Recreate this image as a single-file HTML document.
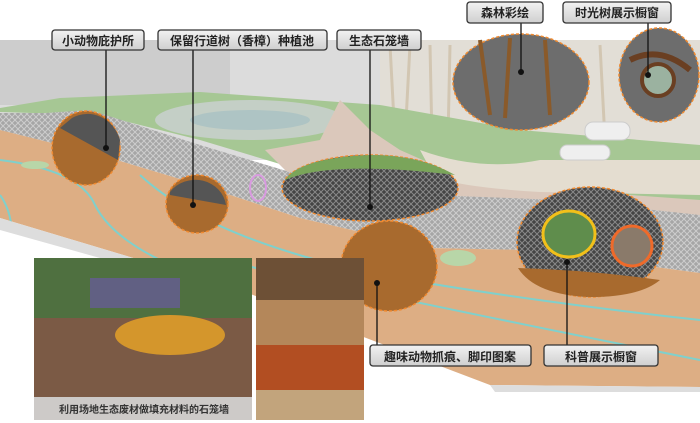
<!DOCTYPE html>
<html><head><meta charset="utf-8"><style>
html,body{margin:0;padding:0;background:#fff}
svg{display:block}
text{font-family:"Liberation Sans","Noto Sans CJK SC",sans-serif;font-weight:bold}
</style></head><body>
<svg width="700" height="423" viewBox="0 0 700 423" xmlns="http://www.w3.org/2000/svg">
<defs>
<pattern id="mesh" width="6" height="6" patternUnits="userSpaceOnUse">
<rect width="6" height="6" fill="#a6a6a6"/><path d="M0 3L3 0L6 3L3 6Z" fill="none" stroke="#cdcdcd" stroke-width="1"/>
</pattern>
<pattern id="meshd" width="6" height="6" patternUnits="userSpaceOnUse">
<rect width="6" height="6" fill="#444"/><path d="M0 3L3 0L6 3L3 6Z" fill="none" stroke="#888" stroke-width="1"/>
</pattern>
<linearGradient id="lb" x1="0" y1="0" x2="0" y2="1"><stop offset="0" stop-color="#f2f2f2"/><stop offset="1" stop-color="#cfcfcf"/></linearGradient>
<clipPath id="oc"><polygon points="0,130 100,155 200,185 300,218 430,248 530,250 700,273 700,387 490,385 240,290 0,218"/></clipPath>
</defs>
<rect width="700" height="423" fill="#fff"/>
<rect x="0" y="40" width="700" height="120" fill="#dcdcdc"/>
<rect x="0" y="40" width="230" height="65" fill="#cdcdcd"/>
<rect x="380" y="40" width="320" height="110" fill="#e2ded6"/>
<g stroke="#c9b79b" stroke-width="3" opacity="0.6">
<line x1="390" y1="45" x2="395" y2="140"/><line x1="410" y1="45" x2="405" y2="140"/><line x1="430" y1="45" x2="432" y2="140"/><line x1="450" y1="45" x2="448" y2="140"/><line x1="600" y1="45" x2="605" y2="140"/>
</g>
<polygon points="0,108 60,98 200,92 380,105 520,130 700,145 700,215 520,205 300,170 200,140 100,115 0,112" fill="#a6c794"/>
<ellipse cx="250" cy="120" rx="95" ry="20" fill="#c4cfc6"/>
<ellipse cx="250" cy="120" rx="60" ry="10" fill="#aec4c4"/>
<polygon points="265,150 320,140 340,100 370,130 400,150 450,172 560,190 700,200 700,225 450,212 300,185" fill="#dbc8bb"/>
<path d="M420,150 Q480,172 540,160 L700,160 L700,195 L540,192 Q470,188 435,178Z" fill="#e4ddd0"/>
<rect x="585" y="122" width="45" height="18" rx="8" fill="#efefef" stroke="#ccc"/>
<rect x="560" y="145" width="50" height="15" rx="7" fill="#efefef" stroke="#ccc"/>
<polygon points="0,113 45,113 90,110 200,145 300,175 430,195 560,200 700,215 700,273 530,250 430,248 300,218 200,185 100,155 0,130" fill="url(#mesh)"/>
<polygon points="0,130 100,155 200,185 300,218 430,248 530,250 700,273 700,387 490,385 240,290 0,218" fill="#ddae84"/>
<polygon points="0,218 240,290 250,300 0,230" fill="#ddd"/>
<polygon points="490,385 700,387 700,392 495,392" fill="#ddd"/>
<g fill="none" stroke="#7fd0cc" stroke-width="2" clip-path="url(#oc)">
<path d="M0,195 Q15,215 12,255"/>
<path d="M0,160 Q80,170 95,205 Q120,255 240,290"/>
<path d="M140,175 Q210,240 380,275 Q520,300 700,320"/>
<path d="M220,260 Q400,300 700,360"/>
</g>
<ellipse cx="35" cy="165" rx="14" ry="4" fill="#b8d6a8"/>
<ellipse cx="458" cy="258" rx="18" ry="8" fill="#b8d6a8"/>
<ellipse cx="258" cy="188" rx="8" ry="13" fill="none" stroke="#d99ae0" stroke-width="2"/>
<g stroke="#f08a30" stroke-width="1.5" stroke-dasharray="3,2">
<ellipse cx="86" cy="148" rx="34" ry="37" fill="#a86a2e"/>
<ellipse cx="197" cy="204" rx="31" ry="29" fill="#a86a2e"/>
<ellipse cx="370" cy="188" rx="88" ry="33" fill="url(#meshd)"/>
<ellipse cx="389" cy="266" rx="48" ry="45" fill="#a86a2e"/>
<ellipse cx="590" cy="242" rx="73" ry="55" fill="url(#meshd)"/>
<ellipse cx="521" cy="82" rx="68" ry="48" fill="#6d6d6d"/>
<ellipse cx="659" cy="75" rx="40" ry="47" fill="#6d6d6d"/>
</g>
<path d="M72,118 A34,37 0 0 1 120,140 L118,160 L60,128Z" fill="#555"/>
<path d="M170,192 A31,29 0 0 1 226,205 L170,195Z" fill="#555"/>
<path d="M285,180 Q330,160 455,175 Q420,155 370,155 Q300,158 285,180Z" fill="#7aa55a"/>
<path d="M518,268 Q590,270 660,280 Q640,297 590,297 Q535,295 518,268Z" fill="#a86a2e"/>
<g stroke="#8a5a2a" stroke-width="4"><line x1="480" y1="40" x2="490" y2="115"/><line x1="510" y1="38" x2="505" y2="118"/><line x1="545" y1="40" x2="550" y2="115"/></g>
<path d="M630,60 Q660,45 690,70" fill="none" stroke="#6a3f22" stroke-width="6"/>
<circle cx="658" cy="80" r="16" fill="#9bb2a0" stroke="#6a3f22" stroke-width="4"/>
<ellipse cx="569" cy="234" rx="26" ry="23" fill="#5f8d4c" stroke="#f2c01a" stroke-width="3"/>
<ellipse cx="632" cy="246" rx="20" ry="20" fill="#8a7a6a" stroke="#ef6a2a" stroke-width="3"/>
<rect x="34" y="258" width="218" height="162" fill="#7b5a45"/>
<rect x="34" y="258" width="218" height="60" fill="#4f7040"/>
<rect x="90" y="278" width="90" height="30" fill="#6a5aa0" opacity="0.7"/>
<ellipse cx="170" cy="335" rx="55" ry="20" fill="#d4962c"/>
<rect x="34" y="397" width="218" height="23" fill="#d6d6d6" opacity="0.9"/>
<text x="144" y="413" font-size="10" fill="#333" text-anchor="middle">利用场地生态废材做填充材料的石笼墙</text>
<rect x="256" y="258" width="108" height="162" fill="#6d5036"/>
<rect x="256" y="300" width="108" height="45" fill="#b4875a"/>
<rect x="256" y="345" width="108" height="45" fill="#b24e22"/>
<rect x="256" y="390" width="108" height="30" fill="#c2a47c"/>
<g stroke="#111" stroke-width="1.3">
<line x1="106" y1="50" x2="106" y2="148"/>
<line x1="193" y1="50" x2="193" y2="205"/>
<line x1="370" y1="50" x2="370" y2="207"/>
<line x1="521" y1="23" x2="521" y2="72"/>
<line x1="648" y1="23" x2="648" y2="75"/>
<line x1="377" y1="283" x2="377" y2="345"/>
<line x1="567" y1="262" x2="567" y2="345"/>
</g>
<g fill="#111">
<circle cx="106" cy="148" r="3"/><circle cx="193" cy="205" r="3"/><circle cx="370" cy="207" r="3"/>
<circle cx="521" cy="72" r="3"/><circle cx="648" cy="75" r="3"/><circle cx="377" cy="283" r="3"/><circle cx="567" cy="262" r="3"/>
</g>
<g stroke="#333" stroke-width="1.3" fill="url(#lb)">
<rect x="52" y="30" width="92" height="20" rx="3"/>
<rect x="158" y="30" width="169" height="20" rx="3"/>
<rect x="337" y="30" width="84" height="20" rx="3"/>
<rect x="467" y="2" width="76" height="21" rx="3"/>
<rect x="563" y="2" width="108" height="21" rx="3"/>
<rect x="370" y="345" width="161" height="21" rx="3"/>
<rect x="544" y="345" width="114" height="21" rx="3"/>
</g>
<g font-size="12" fill="#222" text-anchor="middle">
<text x="98" y="45">小动物庇护所</text>
<text x="242" y="45">保留行道树（香樟）种植池</text>
<text x="379" y="45">生态石笼墙</text>
<text x="505" y="17">森林彩绘</text>
<text x="617" y="17">时光树展示橱窗</text>
<text x="450" y="361">趣味动物抓痕、脚印图案</text>
<text x="601" y="361">科普展示橱窗</text>
</g>
</svg>
</body></html>
